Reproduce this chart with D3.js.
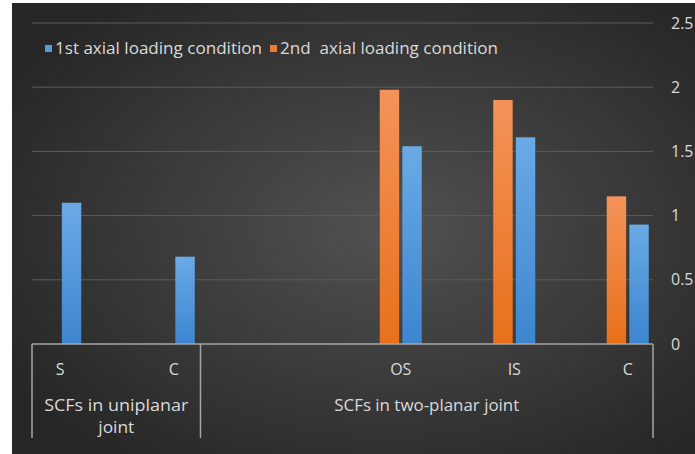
<!DOCTYPE html>
<html>
<head>
<meta charset="utf-8">
<script src="https://cdn.jsdelivr.net/npm/d3@7"></script>
<style>
  html, body { margin: 0; padding: 0; background: #ffffff; }
  svg { display: block; }
  text { font-family: "Open Sans", "Noto Sans", sans-serif; fill: #dadada; }
</style>
</head>
<body>
<svg id="chart" width="695" height="454"></svg>
<script>
// Stress concentration factors per location, two axial loading conditions
const slots = ["S", "C", "gap", "OS", "IS", "C2"];
const slotLabels = ["S", "C", "", "OS", "IS", "C"];
const series = ["2nd", "1st"];
const seriesNames = ["1st axial loading condition", "2nd  axial loading condition"];
const firstLoading  = [1.10, 0.68, null, 1.54, 1.61, 0.93];
const secondLoading = [null, null, null, 1.98, 1.90, 1.15];
const yTicks = [0, 0.5, 1, 1.5, 2, 2.5];
const groups = [
  { name: ["SCFs in uniplanar", "joint"] },
  { name: ["SCFs in two-planar joint"] }
];

const svg = d3.select("#chart");
const W = 695, H = 454;
const plot = { left: 32, right: 653, top: 23, bottom: 344 };
const fontSize = 16;

// Panel background with a soft radial glow
const defs = svg.append("defs");
const bg = defs.append("radialGradient").attr("id", "bg")
  .attr("cx", "55%").attr("cy", "50%").attr("r", "65%");
bg.append("stop").attr("offset", "0%").attr("stop-color", "#515151");
bg.append("stop").attr("offset", "100%").attr("stop-color", "#262626");

const blueGrad = defs.append("linearGradient").attr("id", "blueGrad")
  .attr("x1", 0).attr("y1", 0).attr("x2", 0).attr("y2", 1);
blueGrad.append("stop").attr("offset", "0%").attr("stop-color", "#6aaae6");
blueGrad.append("stop").attr("offset", "100%").attr("stop-color", "#3d85cf");

const orangeGrad = defs.append("linearGradient").attr("id", "orangeGrad")
  .attr("x1", 0).attr("y1", 0).attr("x2", 0).attr("y2", 1);
orangeGrad.append("stop").attr("offset", "0%").attr("stop-color", "#f4935a");
orangeGrad.append("stop").attr("offset", "100%").attr("stop-color", "#e8701b");

svg.append("rect").attr("x", 12).attr("y", 3).attr("width", W - 12).attr("height", H - 3)
  .attr("fill", "url(#bg)");

// Scales
const x = d3.scaleBand().domain(slots).range([3.5, 684.5]).paddingInner(0).paddingOuter(0);
const xs = d3.scaleBand().domain(series).range([-21, 21]).paddingInner(0.14);
const y = d3.scaleLinear().domain([0, 2.5]).range([plot.bottom, plot.top]);

// Gridlines
svg.append("g").selectAll("line").data(yTicks.filter(t => t > 0)).join("line")
  .attr("x1", plot.left).attr("x2", plot.right)
  .attr("y1", d => y(d)).attr("y2", d => y(d))
  .attr("stroke", "#5c5c5c").attr("stroke-width", 1);

// Right value axis labels
const yAxis = d3.axisRight(y).tickValues(yTicks).tickSize(0).tickPadding(18)
  .tickFormat(d => String(d));
const ya = svg.append("g").attr("transform", `translate(${plot.right},0)`).call(yAxis);
ya.attr("font-size", fontSize).attr("font-family", null);
ya.select(".domain").remove();
ya.selectAll("text").attr("fill", "#dadada");

// Bars
const rows = slots.map((s, i) => ({ slot: s, "1st": firstLoading[i], "2nd": secondLoading[i] }));
const barG = svg.append("g");
rows.forEach(r => {
  const cx = x(r.slot) + x.bandwidth() / 2;
  series.forEach(k => {
    const v = r[k];
    if (v == null) return;
    barG.append("rect")
      .attr("x", cx + xs(k))
      .attr("width", xs.bandwidth())
      .attr("y", y(v))
      .attr("height", y(0) - y(v))
      .attr("fill", k === "1st" ? "url(#blueGrad)" : "url(#orangeGrad)");
  });
});

// Category axis: baseline, group dividers, labels
const axisColor = "#a6a6a6";
const axisBottom = 438;
const divider = 200.5;
svg.append("line").attr("x1", plot.left).attr("x2", plot.right)
  .attr("y1", plot.bottom).attr("y2", plot.bottom)
  .attr("stroke", axisColor).attr("stroke-width", 1.5);
[plot.left, divider, plot.right].forEach(xv => {
  svg.append("line").attr("x1", xv).attr("x2", xv)
    .attr("y1", plot.bottom).attr("y2", axisBottom)
    .attr("stroke", axisColor).attr("stroke-width", 1.5);
});

svg.append("g").selectAll("text").data(slots).join("text")
  .attr("x", d => x(d) + x.bandwidth() / 2)
  .attr("y", 375)
  .attr("text-anchor", "middle")
  .attr("font-size", fontSize)
  .text((d, i) => slotLabels[i]);

const groupBounds = [[plot.left, divider], [divider, plot.right]];
const groupWidths = [[144, 36], [185]];
groups.forEach((g, gi) => {
  const cx = (groupBounds[gi][0] + groupBounds[gi][1]) / 2;
  g.name.forEach((line, li) => {
    svg.append("text").attr("x", cx).attr("y", 411 + li * 22)
      .attr("text-anchor", "middle").attr("font-size", fontSize)
      .attr("textLength", groupWidths[gi][li]).attr("lengthAdjust", "spacingAndGlyphs")
      .text(line);
  });
});

// Legend
const legend = svg.append("g");
const lg1 = legend.append("g").attr("transform", "translate(45,45)");
lg1.append("rect").attr("width", 7).attr("height", 7).attr("fill", "#5b9bd5");
lg1.append("text").attr("x", 10).attr("y", 9).attr("font-size", fontSize)
  .attr("textLength", 207).attr("lengthAdjust", "spacingAndGlyphs").text(seriesNames[0]);
const lg2 = legend.append("g").attr("transform", "translate(270,45)");
lg2.append("rect").attr("width", 7).attr("height", 7).attr("fill", "#ed7d31");
lg2.append("text").attr("x", 10).attr("y", 9).attr("font-size", fontSize)
  .attr("textLength", 218).attr("lengthAdjust", "spacingAndGlyphs")
  .style("white-space", "pre").text(seriesNames[1]);
</script>
</body>
</html>
